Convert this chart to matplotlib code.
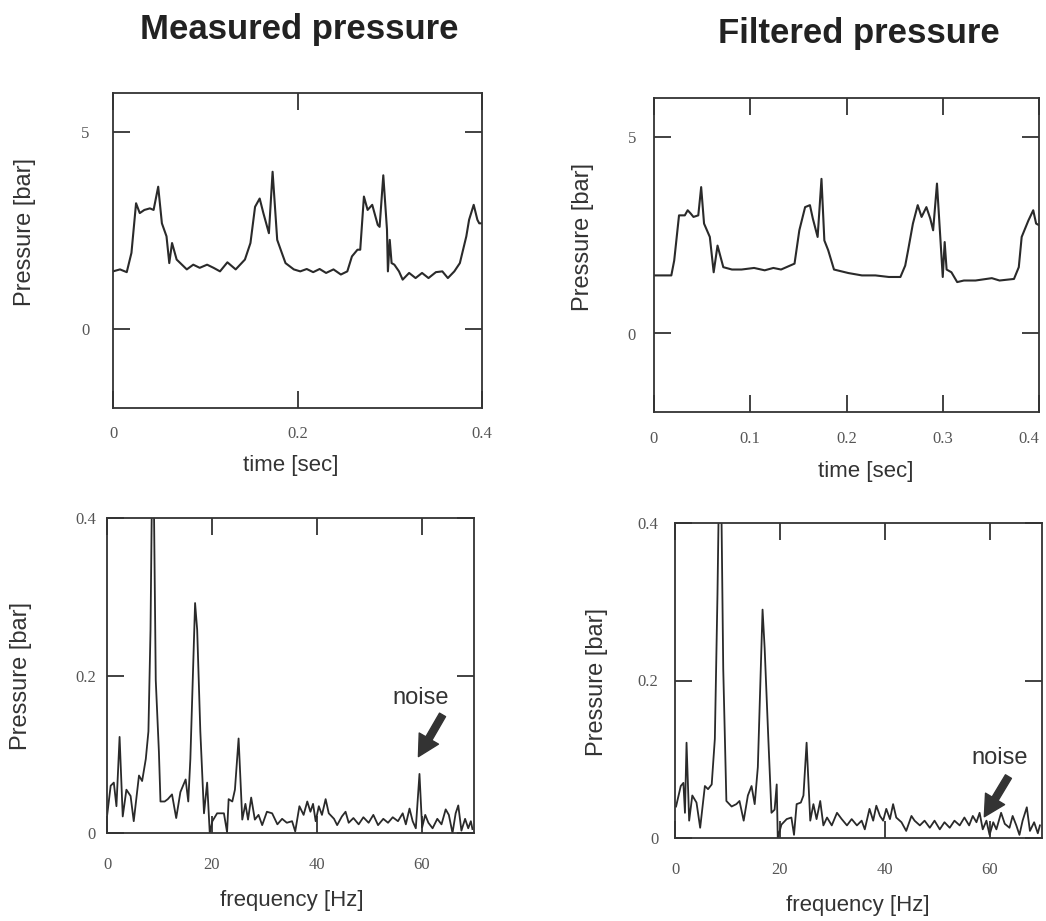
import matplotlib
matplotlib.use("Agg")
import matplotlib.pyplot as plt

# time traces
t_meas = [0.0, 0.0076, 0.0149, 0.020, 0.025, 0.029, 0.034, 0.040, 0.044, 0.049, 0.053, 0.058,
          0.061, 0.064, 0.069, 0.080, 0.087, 0.094, 0.102, 0.109, 0.116, 0.124, 0.133, 0.143,
          0.149, 0.154, 0.159, 0.163, 0.169, 0.173, 0.178, 0.183, 0.187, 0.196, 0.203, 0.210,
          0.217, 0.224, 0.231, 0.239, 0.247, 0.254, 0.259, 0.265, 0.268, 0.272, 0.276, 0.281,
          0.287, 0.289, 0.293, 0.297, 0.298, 0.300, 0.302, 0.305, 0.310, 0.314, 0.321, 0.328,
          0.335, 0.342, 0.350, 0.357, 0.363, 0.370, 0.376, 0.383, 0.386, 0.391, 0.395, 0.397, 0.4]
p_meas = [1.47, 1.52, 1.45, 1.94, 3.20, 2.95, 3.03, 3.07, 3.03, 3.62, 2.69, 2.36,
          1.68, 2.19, 1.77, 1.52, 1.64, 1.56, 1.64, 1.56, 1.47, 1.70, 1.52, 1.77,
          2.19, 3.11, 3.32, 2.95, 2.44, 4.00, 2.27, 1.94, 1.68, 1.52, 1.47, 1.53,
          1.45, 1.53, 1.43, 1.52, 1.39, 1.47, 1.85, 2.02, 2.02, 3.37, 3.03, 3.16,
          2.65, 2.60, 3.91, 2.53, 1.47, 2.27, 1.68, 1.64, 1.47, 1.26, 1.43, 1.30,
          1.43, 1.30, 1.45, 1.47, 1.30, 1.47, 1.68, 2.36, 2.78, 3.16, 2.78, 2.69, 2.69]

t_filt = [0.0, 0.018, 0.021, 0.026, 0.032, 0.035, 0.038, 0.041, 0.046, 0.049, 0.052, 0.058,
          0.062, 0.066, 0.072, 0.081, 0.091, 0.104, 0.115, 0.124, 0.132, 0.146, 0.151, 0.157,
          0.162, 0.165, 0.170, 0.174, 0.177, 0.181, 0.187, 0.202, 0.216, 0.230, 0.244, 0.256,
          0.261, 0.264, 0.269, 0.274, 0.278, 0.283, 0.287, 0.290, 0.294, 0.297, 0.300, 0.302,
          0.304, 0.309, 0.315, 0.322, 0.334, 0.351, 0.359, 0.374, 0.379, 0.382, 0.389, 0.394,
          0.397, 0.4]
p_filt = [1.48, 1.48, 1.86, 3.01, 3.01, 3.14, 3.06, 2.97, 3.01, 3.73, 2.80, 2.46,
          1.56, 2.24, 1.69, 1.63, 1.63, 1.67, 1.61, 1.67, 1.63, 1.78, 2.63, 3.22,
          3.27, 2.93, 2.46, 3.94, 2.37, 2.12, 1.63, 1.54, 1.48, 1.48, 1.44, 1.44,
          1.73, 2.12, 2.80, 3.27, 2.97, 3.22, 2.93, 2.63, 3.82, 2.63, 1.44, 2.33,
          1.63, 1.56, 1.31, 1.35, 1.35, 1.41, 1.35, 1.39, 1.69, 2.46, 2.88, 3.14,
          2.80, 2.76]

# spectra
f_meas = [0.0, 0.7, 1.3, 1.8, 2.4, 3.0, 3.7, 4.5, 5.1, 6.1, 6.7, 7.4, 7.9, 8.3, 8.6, 8.9,
          9.3, 9.9, 10.2, 11.0, 11.6, 12.4, 13.2, 14.0, 15.0, 15.5, 15.9, 16.8, 17.2, 17.8,
          18.5, 19.1, 19.6, 20.1, 21.0, 22.3, 22.9, 23.2, 23.9, 24.4, 25.1, 25.8, 26.4, 26.9,
          27.5, 28.2, 28.9, 29.6, 30.5, 31.5, 32.5, 33.4, 34.3, 35.3, 35.9, 36.7, 37.5, 38.2,
          38.8, 39.3, 39.8, 40.4, 41.0, 41.7, 42.3, 43.3, 43.9, 44.8, 45.5, 46.1, 47.0, 48.0,
          48.9, 49.9, 50.8, 51.7, 52.7, 53.6, 54.5, 55.5, 56.4, 57.0, 57.7, 58.3, 58.9, 59.6,
          60.1, 60.7, 61.3, 62.1, 63.0, 63.8, 64.6, 65.2, 65.9, 66.5, 67.0, 67.6, 68.3, 68.9,
          69.4, 69.7]
a_meas = [0.021, 0.060, 0.064, 0.034, 0.122, 0.021, 0.055, 0.047, 0.015, 0.073, 0.066, 0.094,
          0.129, 0.258, 0.45, 0.45, 0.194, 0.103, 0.040, 0.040, 0.043, 0.049, 0.019, 0.052,
          0.068, 0.040, 0.094, 0.292, 0.258, 0.129, 0.025, 0.064, 0.0, 0.015, 0.025, 0.025,
          0.001, 0.043, 0.040, 0.055, 0.120, 0.017, 0.037, 0.017, 0.045, 0.017, 0.023, 0.010,
          0.027, 0.025, 0.011, 0.018, 0.013, 0.015, 0.002, 0.034, 0.023, 0.040, 0.027, 0.037,
          0.015, 0.034, 0.023, 0.043, 0.025, 0.018, 0.010, 0.021, 0.027, 0.013, 0.019, 0.011,
          0.020, 0.013, 0.023, 0.010, 0.018, 0.013, 0.020, 0.015, 0.025, 0.011, 0.031, 0.015,
          0.006, 0.075, 0.007, 0.023, 0.013, 0.006, 0.018, 0.011, 0.030, 0.023, 0.0, 0.025,
          0.035, 0.003, 0.018, 0.006, 0.015, 0.005]

f_filt = [0.2, 1.1, 1.6, 1.9, 2.2, 2.7, 3.3, 4.1, 4.8, 5.7, 6.3, 7.0, 7.6, 8.1, 8.4, 8.8,
          9.2, 9.8, 10.8, 11.7, 12.3, 13.1, 13.9, 14.6, 15.2, 15.8, 16.7, 17.1, 17.8, 18.4,
          19.0, 19.4, 19.6, 20.3, 21.3, 22.2, 22.7, 23.2, 24.0, 24.5, 25.1, 25.8, 26.4, 27.0,
          27.7, 28.3, 29.0, 29.9, 30.9, 31.8, 32.8, 33.7, 34.7, 35.6, 36.2, 37.1, 37.8, 38.4,
          39.1, 39.7, 40.3, 41.0, 41.6, 42.2, 43.2, 44.1, 45.1, 45.7, 46.7, 47.6, 48.6, 49.5,
          50.5, 51.4, 52.4, 53.3, 54.3, 55.2, 56.1, 56.8, 57.5, 58.1, 58.7, 59.4, 60.0, 60.7,
          61.3, 62.2, 62.9, 63.8, 64.4, 65.1, 65.7, 66.3, 67.1, 67.7, 68.5, 69.2, 69.6]
a_filt = [0.040, 0.066, 0.070, 0.032, 0.121, 0.022, 0.054, 0.045, 0.013, 0.066, 0.062, 0.068,
          0.126, 0.309, 0.45, 0.45, 0.215, 0.047, 0.040, 0.043, 0.047, 0.022, 0.054, 0.066,
          0.043, 0.090, 0.290, 0.241, 0.126, 0.032, 0.036, 0.068, 0.0, 0.017, 0.024, 0.026,
          0.004, 0.043, 0.045, 0.054, 0.121, 0.022, 0.043, 0.024, 0.047, 0.016, 0.026, 0.016,
          0.032, 0.024, 0.016, 0.024, 0.016, 0.022, 0.011, 0.037, 0.022, 0.041, 0.028, 0.022,
          0.037, 0.024, 0.043, 0.026, 0.020, 0.009, 0.028, 0.022, 0.016, 0.022, 0.013, 0.022,
          0.011, 0.020, 0.013, 0.022, 0.016, 0.026, 0.016, 0.028, 0.020, 0.032, 0.011, 0.022,
          0.004, 0.020, 0.011, 0.032, 0.018, 0.013, 0.028, 0.016, 0.004, 0.022, 0.039, 0.009,
          0.020, 0.006, 0.016]

W, H = 1046, 921
fig = plt.figure(figsize=(W / 100, H / 100), dpi=100)
fig.patch.set_facecolor("white")

def fx(px):
    return px / W

def fy(py):
    return 1 - py / H

def make_ax(left, top, right, bottom):
    return fig.add_axes([fx(left), fy(bottom), fx(right) - fx(left), fy(top) - fy(bottom)])

line_c = "#2a2a2a"
tick_font = {"family": "Liberation Serif", "size": 12, "color": "#555555"}

def style(ax, xticks, xlabels, yticks, ylabels, xpad, ypad):
    for s in ax.spines.values():
        s.set_color("#333333")
        s.set_linewidth(1.3)
    ax.set_xticks(xticks)
    ax.set_xticklabels(xlabels, fontdict=tick_font)
    ax.set_yticks(yticks)
    ax.set_yticklabels(ylabels, fontdict=tick_font)
    ax.tick_params(direction="in", length=12, width=1.3, color="#333333",
                   top=True, right=True)
    ax.tick_params(axis="x", pad=xpad)
    ax.tick_params(axis="y", pad=ypad)

# top left
ax1 = make_ax(113, 93, 482, 408)
ax1.plot(t_meas, p_meas, color=line_c, lw=1.5)
ax1.set_xlim(0, 0.4)
ax1.set_ylim(-2, 6)
style(ax1, [0, 0.2, 0.4], ["0", "0.2", "0.4"], [0, 5], ["0", "5"], 13, 17)

# top right
ax2 = make_ax(654, 98, 1039, 412)
ax2.plot(t_filt, p_filt, color=line_c, lw=1.5)
ax2.set_xlim(0, 0.4)
ax2.set_ylim(-2, 6)
style(ax2, [0, 0.1, 0.2, 0.3, 0.4], ["0", "0.1", "0.2", "0.3", "0.4"], [0, 5], ["0", "5"], 14, 13)
ax2.get_xticklabels()[-1].set_horizontalalignment("right")

# bottom left
ax3 = make_ax(107, 518, 474, 833)
ax3.plot(f_meas, a_meas, color=line_c, lw=1.3)
ax3.set_xlim(0, 70)
ax3.set_ylim(0, 0.4)
style(ax3, [0, 20, 40, 60], ["0", "20", "40", "60"], [0, 0.2, 0.4], ["0", "0.2", "0.4"], 17, 8)

# bottom right
ax4 = make_ax(675, 523, 1042, 838)
ax4.plot(f_filt, a_filt, color=line_c, lw=1.3)
ax4.set_xlim(0, 70)
ax4.set_ylim(0, 0.4)
style(ax4, [0, 20, 40, 60], ["0", "20", "40", "60"], [0, 0.2, 0.4], ["0", "0.2", "0.4"], 17, 12)

arrow = dict(facecolor="#333333", edgecolor="#333333", width=5, headwidth=16, headlength=15)
ax3.annotate("", xy=(59.4, 0.097), xytext=(64.0, 0.150), arrowprops=arrow)
ax3.text(59.9, 0.172, "noise", ha="center", va="center", fontsize=17,
         family="Liberation Sans", color="#333333")
ax4.annotate("", xy=(59.0, 0.027), xytext=(63.6, 0.078), arrowprops=arrow)
ax4.text(62.0, 0.102, "noise", ha="center", va="center", fontsize=17,
         family="Liberation Sans", color="#333333")

# titles and axis labels
lab = dict(family="Liberation Sans", fontsize=16, color="#333333", ha="center", va="center")
ylab = dict(lab, fontsize=17, rotation=90)
fig.text(fx(299), fy(30), "Measured pressure", family="Liberation Sans", fontsize=25,
         fontweight="bold", color="#222222", ha="center", va="center")
fig.text(fx(859), fy(33), "Filtered pressure", family="Liberation Sans", fontsize=25,
         fontweight="bold", color="#222222", ha="center", va="center")
fig.text(fx(25), fy(232), "Pressure [bar]", **ylab)
fig.text(fx(583), fy(237), "Pressure [bar]", **ylab)
fig.text(fx(21), fy(676), "Pressure [bar]", **ylab)
fig.text(fx(597), fy(682), "Pressure [bar]", **ylab)
fig.text(fx(291), fy(465), "time [sec]", **lab)
fig.text(fx(866), fy(471), "time [sec]", **lab)
fig.text(fx(292), fy(900), "frequency [Hz]", **lab)
fig.text(fx(858), fy(905), "frequency [Hz]", **lab)

fig.savefig("out.png", dpi=100)
